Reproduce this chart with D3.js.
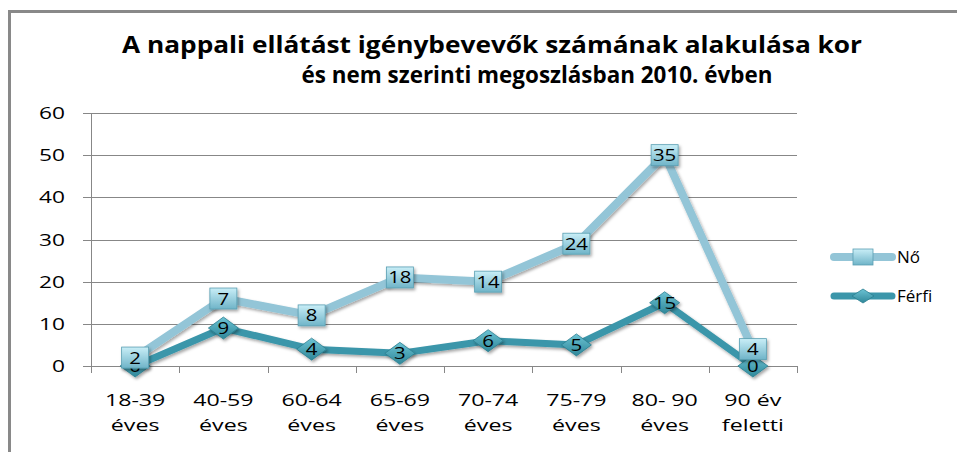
<!DOCTYPE html>
<html lang="hu">
<head>
<meta charset="UTF-8">
<title>Nappali ellátás 2010</title>
<style>
  body { margin: 0; background: #fff; }
  svg { display: block; }
  .title { font-family: "Open Sans", sans-serif; font-weight: bold; font-size: 23px; fill: #000; }
  .tick-lbl { font-family: "Open Sans", sans-serif; font-size: 16px; fill: #000; }
  .legend text { font-family: "Open Sans", sans-serif; font-size: 17px; fill: #000; }
  .val { font-family: "Open Sans", sans-serif; font-size: 17px; fill: #000; }
</style>
</head>
<body>
<svg width="957" height="452"></svg>
<script src="https://cdn.jsdelivr.net/npm/d3@7"></script>
<script>
// adatok
const categories = ["18-39 éves", "40-59 éves", "60-64 éves", "65-69 éves", "70-74 éves", "75-79 éves", "80- 90 éves", "90 év feletti"];
const catLines = [["18-39", "éves"], ["40-59", "éves"], ["60-64", "éves"], ["65-69", "éves"], ["70-74", "éves"], ["75-79", "éves"], ["80- 90", "éves"], ["90 év", "feletti"]];
const ferfi = [0, 9, 4, 3, 6, 5, 15, 0];
const no = [2, 7, 8, 18, 14, 24, 35, 4];
const yTicks = [0, 10, 20, 30, 40, 50, 60];
const titleLines = ["A nappali  ellátást igénybevevők számának alakulása kor", "és nem szerinti megoszlásban 2010. évben"];

const svg = d3.select("svg");

// shadow filter
const defs = svg.append("defs");
const f = defs.append("filter").attr("id", "sh").attr("x", "-30%").attr("y", "-30%").attr("width", "170%").attr("height", "170%");
f.append("feDropShadow").attr("dx", 1.5).attr("dy", 2).attr("stdDeviation", 1.5).attr("flood-color", "#000").attr("flood-opacity", 0.35);

const gSq = defs.append("linearGradient").attr("id", "sqg").attr("x1", 0).attr("y1", 0).attr("x2", 0).attr("y2", 1);
gSq.append("stop").attr("offset", "0%").attr("stop-color", "#c9eef7");
gSq.append("stop").attr("offset", "100%").attr("stop-color", "#6fb4c8");
const gDi = defs.append("linearGradient").attr("id", "dig").attr("x1", 0).attr("y1", 0).attr("x2", 0).attr("y2", 1);
gDi.append("stop").attr("offset", "0%").attr("stop-color", "#6cc3d4");
gDi.append("stop").attr("offset", "100%").attr("stop-color", "#2f8799");

// frame
svg.append("path").attr("d", "M9.5,452 V11.5 H957").attr("fill", "none").attr("stroke", "#898989").attr("stroke-width", 3);

// title (second line sits a little right of centre in the original)
const titlePos = [{ cx: 492, w: 740, yy: 53 }, { cx: 537, w: 471, yy: 83 }];
svg.append("g").selectAll("text").data(titleLines).join("text")
  .attr("class", "title").attr("text-anchor", "middle")
  .attr("x", (d, i) => titlePos[i].cx).attr("y", (d, i) => titlePos[i].yy)
  .attr("textLength", (d, i) => titlePos[i].w).attr("lengthAdjust", "spacingAndGlyphs")
  .text(d => d);

const x = d3.scaleBand().domain(categories).range([91, 797]);
const y = d3.scaleLinear().domain([0, 60]).range([366, 113]);

// gridlines
svg.append("g").selectAll("line").data(yTicks).join("line")
  .attr("x1", 83).attr("x2", 797)
  .attr("y1", d => Math.round(y(d)) + 0.5).attr("y2", d => Math.round(y(d)) + 0.5)
  .attr("stroke", "#878787").attr("stroke-width", 1);

// y axis line
svg.append("line").attr("x1", 91.5).attr("x2", 91.5).attr("y1", y(60)).attr("y2", y(0) + 7)
  .attr("stroke", "#878787");

// x ticks at band edges
const edges = categories.map(c => x(c)).concat([x.range()[1]]);
svg.append("g").selectAll("line").data(edges).join("line")
  .attr("x1", d => Math.round(d) + 0.5).attr("x2", d => Math.round(d) + 0.5)
  .attr("y1", y(0)).attr("y2", y(0) + 7)
  .attr("stroke", "#878787");

// y labels
svg.append("g").selectAll("g").data(yTicks).join("g")
  .attr("transform", d => `translate(65,${y(d) + 6}) scale(1.42,1)`)
  .append("text").attr("class", "tick-lbl").attr("text-anchor", "end").text(d => d);

// x labels
const xl = svg.append("g").selectAll("g").data(categories).join("g");
xl.each(function(c, i) {
  const g = d3.select(this);
  catLines[i].forEach((t, j) => {
    g.append("g").attr("transform", `translate(${x(c) + x.bandwidth() / 2},${406 + j * 25}) scale(1.45,1)`)
      .append("text").attr("class", "tick-lbl").attr("text-anchor", "middle").text(t);
  });
});

// stacked values
const rows = categories.map((c, i) => ({ cat: c, ferfi: ferfi[i], no: no[i] }));
const stacked = d3.stack().keys(["ferfi", "no"])(rows);
const sF = stacked[0], sN = stacked[1];
const cx = d => x(d.data.cat) + x.bandwidth() / 2;

const line = d3.line().x(cx).y(d => y(d[1]));

svg.append("path").datum(sN).attr("d", line).attr("fill", "none")
  .attr("stroke", "#93c5d7").attr("stroke-width", 8).attr("stroke-linejoin", "round").attr("stroke-linecap", "round")
  .attr("filter", "url(#sh)");
svg.append("path").datum(sF).attr("d", line).attr("fill", "none")
  .attr("stroke", "#3b96aa").attr("stroke-width", 7).attr("stroke-linejoin", "round").attr("stroke-linecap", "round")
  .attr("filter", "url(#sh)");

const diamond = "M0,-11 L15,0 L0,11 L-15,0 Z";

// Férfi markers + labels
const mf = svg.append("g").selectAll("g").data(sF).join("g")
  .attr("transform", d => `translate(${cx(d)},${y(d[1])})`);
mf.append("path").attr("d", diamond).attr("fill", "url(#dig)").attr("stroke", "#2b7f90").attr("stroke-width", 0.8).attr("filter", "url(#sh)");
mf.append("g").attr("transform", "translate(0,6) scale(1.2,1)")
  .append("text").attr("class", "val").attr("text-anchor", "middle").text(d => d.data.ferfi);

// Nő markers + labels (covering the first Férfi label as in the original)
const mn = svg.append("g").selectAll("g").data(sN).join("g")
  .attr("transform", d => `translate(${cx(d)},${y(d[1])})`);
mn.append("rect").attr("x", -13.5).attr("y", -10.5).attr("width", 27).attr("height", 21)
  .attr("fill", "url(#sqg)").attr("stroke", "#5a9fb2").attr("stroke-width", 0.8).attr("filter", "url(#sh)");
mn.append("g").attr("transform", "translate(0,6) scale(1.2,1)")
  .append("text").attr("class", "val").attr("text-anchor", "middle").text(d => d.data.no);

// legend
const legend = svg.append("g").attr("class", "legend");
const legItems = [
  { name: "Nő", color: "#93c5d7", w: 8, type: "sq", yy: 257 },
  { name: "Férfi", color: "#3b96aa", w: 7, type: "di", yy: 296 }
];
const li = legend.selectAll("g").data(legItems).join("g").attr("transform", d => `translate(0,${d.yy})`);
li.append("line").attr("x1", 834).attr("x2", 892).attr("y1", 0).attr("y2", 0)
  .attr("stroke", d => d.color).attr("stroke-width", d => d.w).attr("stroke-linecap", "round");
li.filter(d => d.type === "sq").append("rect").attr("x", 853).attr("y", -8).attr("width", 20).attr("height", 16)
  .attr("fill", "url(#sqg)").attr("stroke", "#5a9fb2").attr("stroke-width", 0.8);
li.filter(d => d.type === "di").append("path").attr("d", "M863,-7 L874,0 L863,7 L852,0 Z")
  .attr("fill", "url(#dig)").attr("stroke", "#2b7f90").attr("stroke-width", 0.8);
li.append("text").attr("x", 897).attr("y", 6).text(d => d.name);
</script>
</body>
</html>
